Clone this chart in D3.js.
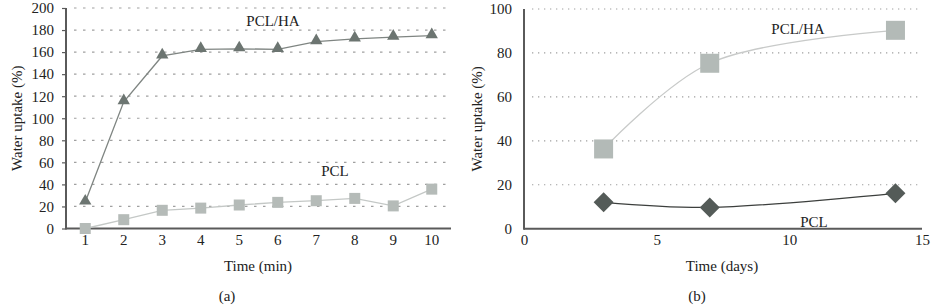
<!DOCTYPE html>
<html lang="en">
<head>
    <meta charset="UTF-8">
    <title>Water uptake</title>
    <style>
        body { margin: 0; background: #fff; }
        svg text {
            font-family: "Liberation Serif", "DejaVu Serif", serif;
            font-size: 15px;
            fill: #222;
        }
        .grid line { stroke: #a0a0a0; stroke-width: 1.2px; }
        .axisline { stroke: #5a5a5a; stroke-width: 2px; }
    </style>
</head>
<body>
    <svg width="932" height="308"></svg>
    <script src="https://d3js.org/d3.v7.min.js"></script>
    <script>
        // panel (a): water uptake vs time in minutes
        const minutes = [1, 2, 3, 4, 5, 6, 7, 8, 9, 10];
        const pclHaMin = [24, 115, 156.5, 162.5, 163, 162.5, 169.5, 172, 173.5, 175];
        const pclMin = [0, 8, 16.5, 18.5, 21.3, 23.7, 25.2, 27.3, 20.5, 35.7];
        const ticksA = [0, 20, 40, 60, 80, 100, 120, 140, 160, 180, 200];

        // panel (b): water uptake vs time in days
        const days = [3, 7, 14];
        const pclHaDays = [36.3, 75.3, 90.3];
        const pclDays = [12, 9.7, 16.1];
        const ticksBy = [0, 20, 40, 60, 80, 100];
        const ticksBx = [0, 5, 10, 15];

        const svg = d3.select("svg");

        function gridAndAxes(x0, x1, y, ticks, dash, tickLen) {
            const g = svg.append("g").attr("class", "grid");
            g.selectAll("line")
                .data(ticks.slice(1))
                .enter().append("line")
                .attr("x1", x0 + 8).attr("x2", x1)
                .attr("y1", d => y(d)).attr("y2", d => y(d))
                .style("stroke-dasharray", dash);

            const yAxis = d3.axisLeft(y).tickValues(ticks).tickSize(tickLen).tickPadding(12 - tickLen);
            const ga = svg.append("g").attr("transform", `translate(${x0},0)`).call(yAxis);
            ga.select(".domain").remove();
            ga.selectAll(".tick line").attr("stroke", "#5a5a5a").attr("stroke-width", 1.2);
            ga.selectAll("text").style("font-size", "15px").style("font-family", null);

            svg.append("line").attr("class", "axisline")
                .attr("x1", x0).attr("x2", x0)
                .attr("y1", y(ticks[ticks.length - 1])).attr("y2", y(0) + 1);
            svg.append("line").attr("class", "axisline")
                .attr("x1", x0).attr("x2", x1)
                .attr("y1", y(0)).attr("y2", y(0));
        }

        // ---------- (a) ----------
        const xa = d3.scaleBand().domain(minutes).range([66, 451]);
        const ya = d3.scaleLinear().domain([0, 200]).range([228.5, 8]);
        const cx = d => xa(d) + xa.bandwidth() / 2;

        gridAndAxes(66, 451, ya, ticksA, "2.5,6.5", 4);

        const xAxisA = d3.axisBottom(xa).tickSize(0).tickPadding(6);
        const gxa = svg.append("g").attr("transform", `translate(0,${ya(0)})`).call(xAxisA);
        gxa.select(".domain").remove();
        gxa.selectAll("text").style("font-size", "15px").style("font-family", null);

        const lineA = d3.line().x((d, i) => cx(minutes[i])).y(d => ya(d));

        svg.append("path").datum(pclMin)
            .attr("d", lineA).attr("fill", "none")
            .attr("stroke", "#c4c8c6").attr("stroke-width", 1.3);
        svg.append("path").datum(pclHaMin)
            .attr("d", lineA).attr("fill", "none")
            .attr("stroke", "#7f8582").attr("stroke-width", 1.3);

        svg.selectAll(".sqA").data(pclMin).enter().append("rect")
            .attr("x", (d, i) => cx(minutes[i]) - 5.5)
            .attr("y", d => ya(d) - 5.5)
            .attr("width", 11).attr("height", 11)
            .attr("fill", "#b5bbb8");

        const tri = d3.symbol().type(d3.symbolTriangle).size(66);
        svg.selectAll(".triA").data(pclHaMin).enter().append("path")
            .attr("d", tri)
            .attr("transform", (d, i) => `translate(${cx(minutes[i])},${ya(d) - 1})`)
            .attr("fill", "#6c7571");

        svg.append("text").attr("x", 273).attr("y", 26).attr("text-anchor", "middle").text("PCL/HA");
        svg.append("text").attr("x", 335).attr("y", 176).attr("text-anchor", "middle").text("PCL");
        svg.append("text").attr("x", 258).attr("y", 271).attr("text-anchor", "middle").text("Time (min)");
        svg.append("text").attr("x", 227).attr("y", 301).attr("text-anchor", "middle").text("(a)");
        svg.append("text")
            .attr("transform", `translate(22,${ya(100)}) rotate(-90)`)
            .attr("text-anchor", "middle").text("Water uptake (%)");

        // ---------- (b) ----------
        const xb = d3.scaleLinear().domain([0, 15]).range([524, 922]);
        const yb = d3.scaleLinear().domain([0, 100]).range([228.7, 9]);

        gridAndAxes(524, 922, yb, ticksBy, "1.3,4.7", 0);

        const xAxisB = d3.axisBottom(xb).tickValues(ticksBx).tickSize(0).tickPadding(6);
        const gxb = svg.append("g").attr("transform", `translate(0,${yb(0)})`).call(xAxisB);
        gxb.select(".domain").remove();
        gxb.selectAll("text").style("font-size", "15px").style("font-family", null);

        const lineB = d3.line()
            .x((d, i) => xb(days[i])).y(d => yb(d))
            .curve(d3.curveCatmullRom.alpha(0.5));

        svg.append("path").datum(pclHaDays)
            .attr("d", lineB).attr("fill", "none")
            .attr("stroke", "#c8cac9").attr("stroke-width", 1.3);
        svg.append("path").datum(pclDays)
            .attr("d", lineB).attr("fill", "none")
            .attr("stroke", "#3c3f3d").attr("stroke-width", 1.3);

        svg.selectAll(".sqB").data(pclHaDays).enter().append("rect")
            .attr("x", (d, i) => xb(days[i]) - 9.5)
            .attr("y", d => yb(d) - 9.5)
            .attr("width", 19).attr("height", 19)
            .attr("fill", "#b3bab7");

        const dia = d3.symbol().type(d3.symbolSquare).size(200);
        svg.selectAll(".diaB").data(pclDays).enter().append("path")
            .attr("d", dia)
            .attr("transform", (d, i) => `translate(${xb(days[i])},${yb(d)}) rotate(45)`)
            .attr("fill", "#545b58");

        svg.append("text").attr("x", 798).attr("y", 34).attr("text-anchor", "middle").text("PCL/HA");
        svg.append("text").attr("x", 814).attr("y", 227).attr("text-anchor", "middle").text("PCL");
        svg.append("text").attr("x", 722).attr("y", 271).attr("text-anchor", "middle").text("Time (days)");
        svg.append("text").attr("x", 697).attr("y", 301).attr("text-anchor", "middle").text("(b)");
        svg.append("text")
            .attr("transform", `translate(482,${yb(50)}) rotate(-90)`)
            .attr("text-anchor", "middle").text("Water uptake (%)");
    </script>
</body>
</html>
